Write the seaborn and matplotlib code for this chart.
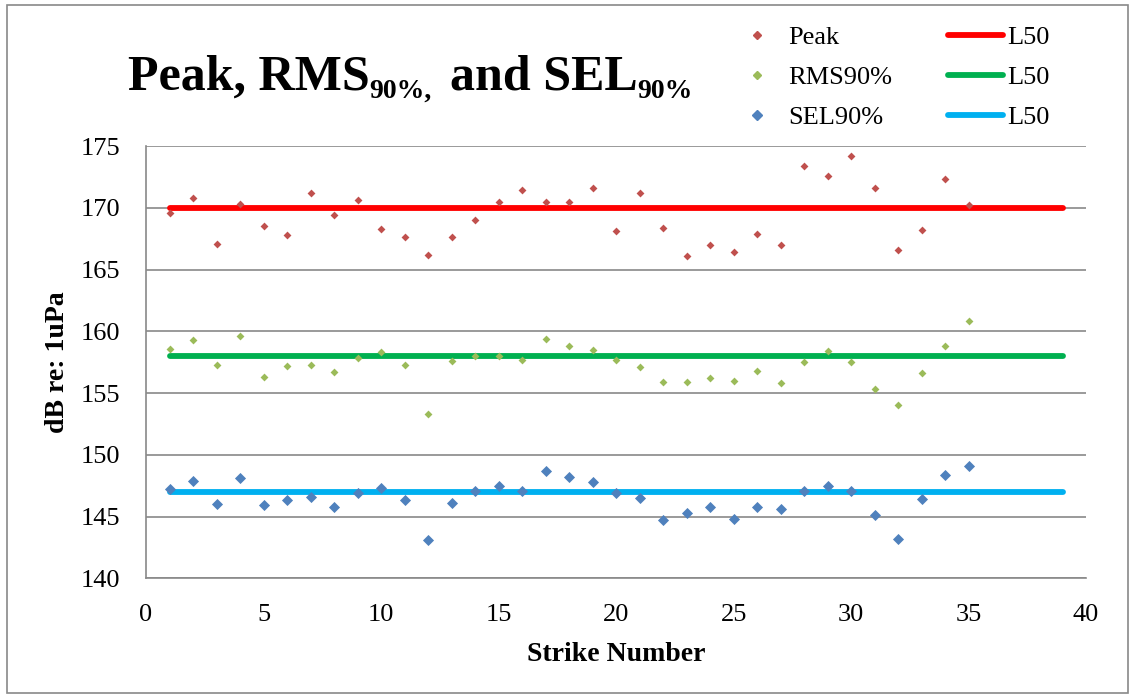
import numpy as np
import matplotlib
matplotlib.use("Agg")
import matplotlib.pyplot as plt
import seaborn as sns
from matplotlib.lines import Line2D
from matplotlib.patches import Rectangle

# === data ===
strike = np.arange(1, 36)
peak = [169.6, 170.8, 167.1, 170.3, 168.5, 167.8, 171.2, 169.4, 170.6, 168.3,
        167.6, 166.2, 167.6, 169.0, 170.5, 171.4, 170.5, 170.5, 171.6, 168.1,
        171.2, 168.4, 166.1, 167.0, 166.4, 167.9, 167.0, 173.4, 172.6, 174.2,
        171.6, 166.6, 168.2, 172.3, 170.2]
rms90 = [158.6, 159.3, 157.3, 159.6, 156.3, 157.2, 157.3, 156.7, 157.8, 158.3,
         157.3, 153.3, 157.6, 158.0, 158.0, 157.7, 159.4, 158.8, 158.5, 157.7,
         157.1, 155.9, 155.9, 156.2, 156.0, 156.8, 155.8, 157.5, 158.4, 157.5,
         155.3, 154.0, 156.6, 158.8, 160.8]
sel90 = [147.2, 147.9, 146.0, 148.1, 145.9, 146.3, 146.6, 145.8, 146.9, 147.3,
         146.3, 143.1, 146.1, 147.1, 147.5, 147.1, 148.7, 148.2, 147.8, 146.9,
         146.5, 144.7, 145.3, 145.8, 144.8, 145.8, 145.6, 147.1, 147.5, 147.1,
         145.1, 143.2, 146.4, 148.4, 149.1]
l50_x = [1, 39]
l50_peak = 170
l50_rms = 158
l50_sel = 147

sns.set_style("white")
plt.rcParams['font.family'] = ['Liberation Serif', 'DejaVu Serif']
plt.rcParams['text.color'] = 'black'
plt.rcParams['axes.labelcolor'] = 'black'

W, H = 1133, 698
fig = plt.figure(figsize=(W / 100, H / 100), dpi=100)
ax = fig.add_axes([0.1289, 0.1715, 0.8297, 0.6193])

grid_c = '#898989'

# L50 lines first so markers sit on top
for val, col in [(l50_peak, '#FF0000'), (l50_rms, '#00B050'), (l50_sel, '#00B0F0')]:
    sns.lineplot(x=l50_x, y=[val, val], color=col, linewidth=4.2, ax=ax,
                 solid_capstyle='round', zorder=3)

sns.scatterplot(x=strike, y=peak, marker='D', s=16, color='#C0504D',
                linewidth=0, ax=ax, zorder=4)
sns.scatterplot(x=strike, y=rms90, marker='D', s=16, color='#9BBB59',
                linewidth=0, ax=ax, zorder=4)
sns.scatterplot(x=strike, y=sel90, marker='D', s=32, color='#4F81BD',
                linewidth=0, ax=ax, zorder=4)

ax.set_xlim(0, 40)
ax.set_ylim(140, 175)
ax.set_xticks(range(0, 41, 5))
ax.set_yticks(range(140, 176, 5))
ax.tick_params(axis='both', length=0, labelsize=19, colors='black')
ax.tick_params(axis='x', pad=18.3)
ax.tick_params(axis='y', pad=18.5)
ax.yaxis.grid(True, color=grid_c, linewidth=1.2)
ax.xaxis.grid(False)
ax.set_axisbelow(True)
for side in ['top', 'right']:
    ax.spines[side].set_visible(False)
for side in ['left', 'bottom']:
    ax.spines[side].set_color(grid_c)
    ax.spines[side].set_linewidth(1.2)

ax.set_xlabel("Strike Number", fontsize=20, fontweight='bold', labelpad=12)
ax.set_ylabel("dB re: 1uPa", fontsize=20, fontweight='bold', labelpad=8)

# title built from pieces so the subscripts can be small and lowered
renderer = fig.canvas.get_renderer()
pieces = [("Peak, RMS", 36, 0, 0), ("90%,", 20, -8, 0),
          ("and SEL", 36, 0, 18), ("90%", 20, -8, 0)]
x_px, base_px = 128, H - 90
for txt, size, dy, gap in pieces:
    x_px += gap
    t = fig.text(x_px / W, (base_px + dy) / H, txt, fontsize=size,
                 fontweight='bold', ha='left', va='baseline', color='black')
    x_px = t.get_window_extent(renderer).x1

handles = [
    Line2D([], [], linestyle='none', marker='D', markersize=4, color='#C0504D'),
    Line2D([], [], linestyle='none', marker='D', markersize=4, color='#9BBB59'),
    Line2D([], [], linestyle='none', marker='D', markersize=5.5, color='#4F81BD'),
    Line2D([], [], color='#FF0000', linewidth=4.2, solid_capstyle='round'),
    Line2D([], [], color='#00B050', linewidth=4.2, solid_capstyle='round'),
    Line2D([], [], color='#00B0F0', linewidth=4.2, solid_capstyle='round'),
]
labels = ['Peak', 'RMS90%', 'SEL90%', 'L50', 'L50', 'L50']
fig.legend(handles, labels, ncol=2, loc='upper left',
           bbox_to_anchor=(729 / W, 1 - 26 / H), frameon=False,
           fontsize=19, handlelength=2.1, handletextpad=0.15,
           columnspacing=2.1, labelspacing=0.62, borderpad=0, borderaxespad=0)

# outer chart border
fig.patches.append(Rectangle((7 / W, 5 / H), 1 - 12 / W, 1 - 10 / H,
                             transform=fig.transFigure, fill=False,
                             edgecolor=grid_c, linewidth=1.2))

fig.savefig("out.png", dpi=100)
